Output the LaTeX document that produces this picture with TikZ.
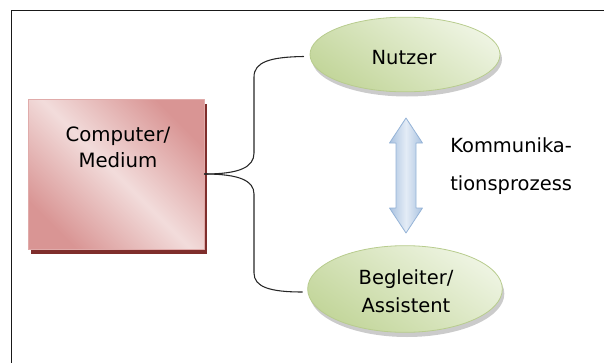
\documentclass[tikz,border=0pt]{standalone}
\usepackage{fontspec}
\setmainfont{DejaVu Sans}
\usetikzlibrary{shadows,calc,shapes.geometric}
\definecolor{boxdark}{HTML}{D99594}
\definecolor{boxlight}{HTML}{F2DCDB}
\definecolor{boxline}{HTML}{E0ABAA}
\definecolor{boxshadow}{HTML}{7F2E2C}
\definecolor{ellight}{HTML}{EEF4E2}
\definecolor{eldark}{HTML}{C3D69B}
\definecolor{elline}{HTML}{B8CC8E}
\definecolor{arrlight}{HTML}{E4ECF6}
\definecolor{arrdark}{HTML}{A9C2E0}
\definecolor{arrline}{HTML}{95B3D7}
\begin{document}
\begin{tikzpicture}[x=.75pt,y=.75pt,line join=round,line cap=round,
	txt/.style={font=\fontsize{14.6}{21}\selectfont,align=center},
	medbox/.style={draw=boxline,line width=.6pt,minimum width=132pt,minimum height=112.5pt,
		top color=boxdark,bottom color=boxdark,middle color=boxlight,shading angle=-45,
		drop shadow={shadow xshift=2.25pt,shadow yshift=-3.75pt,fill=boxshadow,opacity=1}},
	role/.style={ellipse,draw=elline,line width=.6pt,
		top color=ellight,bottom color=eldark,shading angle=-35,
		drop shadow={shadow xshift=1.5pt,shadow yshift=-3.5pt,fill=black!45,opacity=.45}},
	conn/.style={draw=black!85,line width=.8pt}]
	\useasboundingbox (0,0) rectangle (604,362);
	\clip (0,0) rectangle (604,362);
	% frame
	\draw[line width=1.1pt,black!90] (11.5,-5)--(11.5,351.5)--(620,351.5);
	% medium
	\node[medbox] (medium) at (116,188) {};
	\node[txt,font=\fontsize{14.8}{19.5}\selectfont] (medtxt) at ($(medium.center)+(2,27)$) {Computer/\\Medium};
	% the two partners
	\node[role,minimum width=142.5pt,minimum height=56pt] (nutzer) at (405,307.5) {};
	\node[txt] (nutzertxt) at ($(nutzer.center)+(-1,-3)$) {Nutzer};
	\node[role,minimum width=146pt,minimum height=65pt] (begl) at (405,73) {};
	\node[txt] (begltxt) at ($(begl.center)+(1,-2)$) {Begleiter/\\Assistent};
	% brace from the medium
	\draw[conn] (medium.east) .. controls (240,188) and (254,195) .. (254,209) -- (254,285)
		.. controls (254,300) and (270,305) .. ($(nutzer.west)+(-6,-2)$);
	\draw[conn] (medium.east) .. controls (240,188) and (254,181) .. (254,168) -- (254,89)
		.. controls (254,75) and (270,70) .. ($(begl.west)+(-5,-3)$);
	% double arrow
	\draw[draw=arrline,line width=.6pt,left color=arrdark,right color=arrdark,middle color=arrlight]
		(406,244)--(422.5,219)--(416,219)--(416,154)--(422.5,154)--(406,129)
		--(389.5,154)--(396,154)--(396,219)--(389.5,219)--cycle;
	\node[anchor=west,inner sep=0pt,align=left,font=\fontsize{14.6}{28.5}\selectfont] (komm) at (450,196) {Kommunika-\\tionsprozess};
\end{tikzpicture}
\end{document}
